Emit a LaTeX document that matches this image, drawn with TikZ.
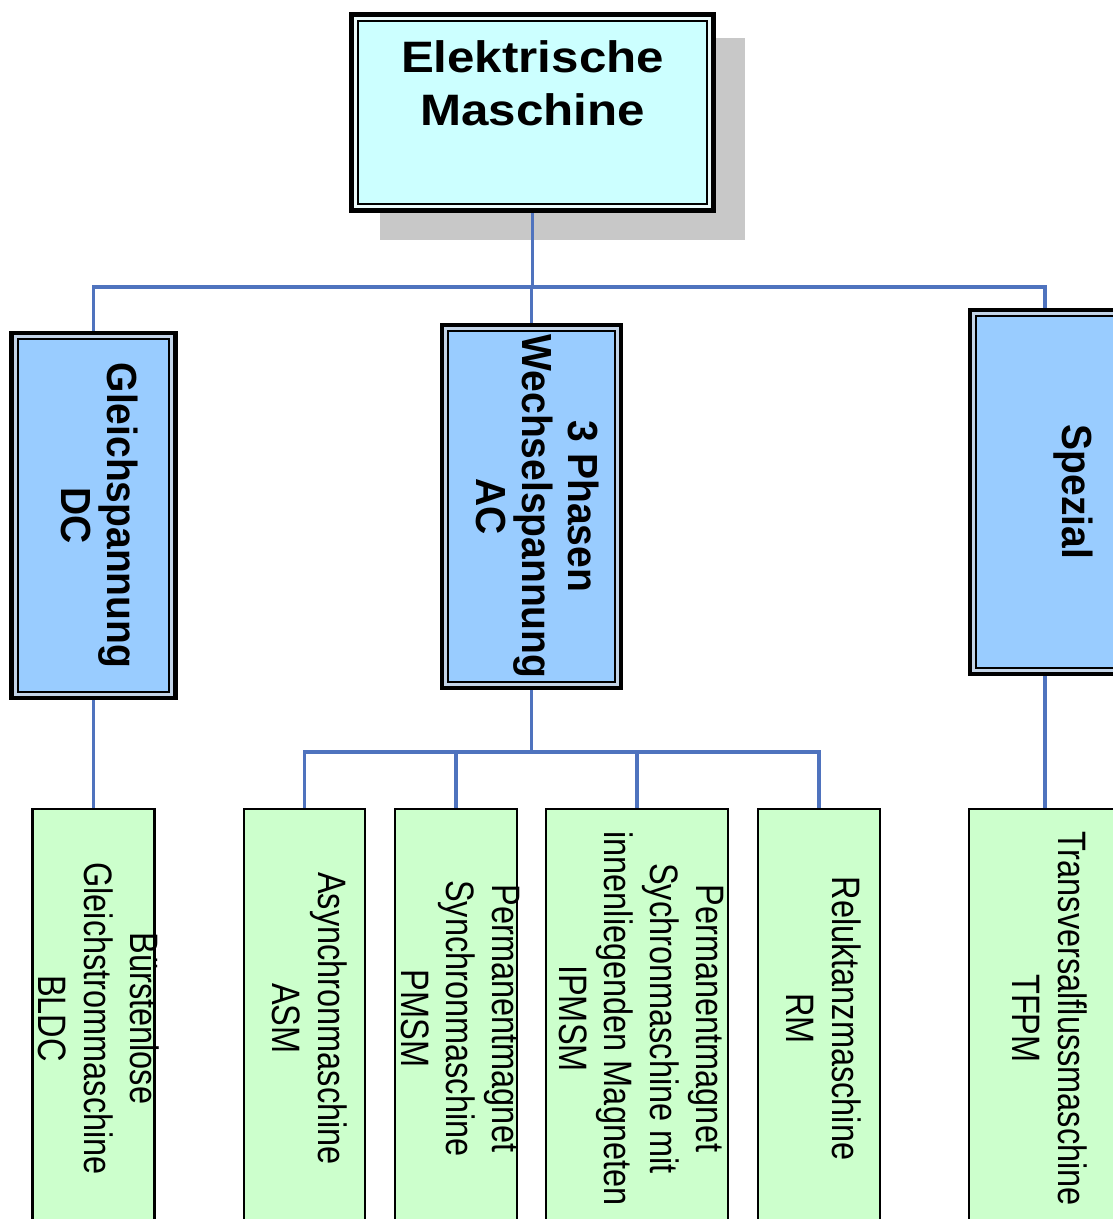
\documentclass[tikz,border=0pt]{standalone}
\usepackage{fontspec}
\setmainfont{Liberation Sans}
\usepackage{graphicx}
\usetikzlibrary{backgrounds}
\definecolor{topfill}{RGB}{204,255,255}
\definecolor{midfill}{RGB}{153,204,255}
\definecolor{lowfill}{RGB}{204,255,204}
\definecolor{wire}{RGB}{79,115,190}
\definecolor{shadowc}{RGB}{200,200,200}
\definecolor{topgap}{RGB}{235,250,250}
\definecolor{midgap}{RGB}{195,212,232}
\newcommand{\rottext}[2]{\makebox[0pt]{\rotatebox{-90}{\scalebox{1}[#1]{\begin{tabular}{@{}c@{}}#2\end{tabular}}}}}
\newcommand{\dblframe}[2]{%
  \draw[#2, line width=2.95pt] ([shift={(3.7,3.7)}]#1.north west) rectangle ([shift={(-3.7,-3.7)}]#1.south east);
  \draw[black, line width=2pt] ([shift={(6.2,6.2)}]#1.north west) rectangle ([shift={(-6.2,-6.2)}]#1.south east);}
\begin{document}
\begin{tikzpicture}[x=1pt, y=-1pt,
  dblbox/.style={draw=black, line width=4.5pt, rectangle, inner sep=0pt, outer sep=0pt},
  topbox/.style={dblbox, fill=topfill, font=\bfseries\fontsize{44}{53}\selectfont},
  midbox/.style={dblbox, fill=midfill, font=\bfseries\fontsize{39}{42.5}\selectfont},
  lowbox/.style={draw=black, line width=2.5pt, fill=lowfill, rectangle, inner sep=0pt, outer sep=0pt,
    minimum height=419pt, font=\fontsize{32.5}{37.5}\selectfont},
  wireline/.style={draw=wire, line width=3.2pt}]
\useasboundingbox (0,0) rectangle (1113,1219);

% top
\node[topbox, minimum width=362pt, minimum height=196pt] (top) at (532.5,112.5)
  {\scalebox{1.12}[1]{\begin{tabular}{@{}c@{}}Elektrische\\Maschine\\[49pt]\end{tabular}}};
\dblframe{top}{topgap}

% middle level
\node[midbox, minimum width=164pt, minimum height=365pt] (dc) at (93.5,515.5)
  {\rottext{1.08}{Gleichspannung\\DC}};
\dblframe{dc}{midgap}
\node[midbox, minimum width=179pt, minimum height=363pt] (ac) at (531.5,506.5)
  {\rottext{1.08}{3 Phasen\\Wechselspannung\\AC}};
\dblframe{ac}{midgap}
\node[midbox, minimum width=204pt, minimum height=364pt] (spez) at (1072,492)
  {\rottext{1.08}{Spezial}};
\dblframe{spez}{midgap}

% bottom level
\node[lowbox, minimum width=122pt] (bldc) at (93.5,1018.5)
  {\rottext{1.22}{Bürstenlose\\Gleichstrommaschine\\BLDC}};
\node[lowbox, minimum width=121pt] (asm) at (304.5,1018.5)
  {\rottext{1.22}{Asynchronmaschine\\ASM}};
\node[lowbox, minimum width=122pt] (pmsm) at (456,1018.5)
  {\rottext{1.22}{Permanentmagnet\\Synchronmaschine\\PMSM}};
\node[lowbox, minimum width=182pt] (ipmsm) at (637,1018.5)
  {\rottext{1.22}{Permanentmagnet\\Sychronmaschine mit\\innenliegenden Magneten\\IPMSM}};
\node[lowbox, minimum width=122pt] (rm) at (819,1018.5)
  {\rottext{1.22}{Reluktanzmaschine\\RM}};
\node[lowbox, minimum width=152pt] (tfpm) at (1045,1018.5)
  {\rottext{1.22}{Transversalflussmaschine\\TFPM}};

\coordinate (bus1) at (532.5,287);
\coordinate (bus2) at (531.5,752);

\begin{scope}[on background layer]
  \fill[white] (0,0) rectangle (1113,1219);
  \fill[shadowc] (380,38) rectangle (745,240);
  \draw[wireline] (top.south) -- (bus1);
  \draw[wireline] (dc.north) |- (bus1) -| ([xshift=-27pt]spez.north);
  \draw[wireline] (ac.north) -- (ac.north |- bus1);
  \draw[wireline] (dc.south) -- (bldc.north);
  \draw[wireline] ([xshift=-27pt]spez.south) -- (tfpm.north);
  \draw[wireline] (ac.south) -- (bus2);
  \draw[wireline] (asm.north) |- (bus2) -| (rm.north);
  \draw[wireline] (pmsm.north) -- (pmsm.north |- bus2);
  \draw[wireline] (ipmsm.north) -- (ipmsm.north |- bus2);
\end{scope}
\end{tikzpicture}
\end{document}
